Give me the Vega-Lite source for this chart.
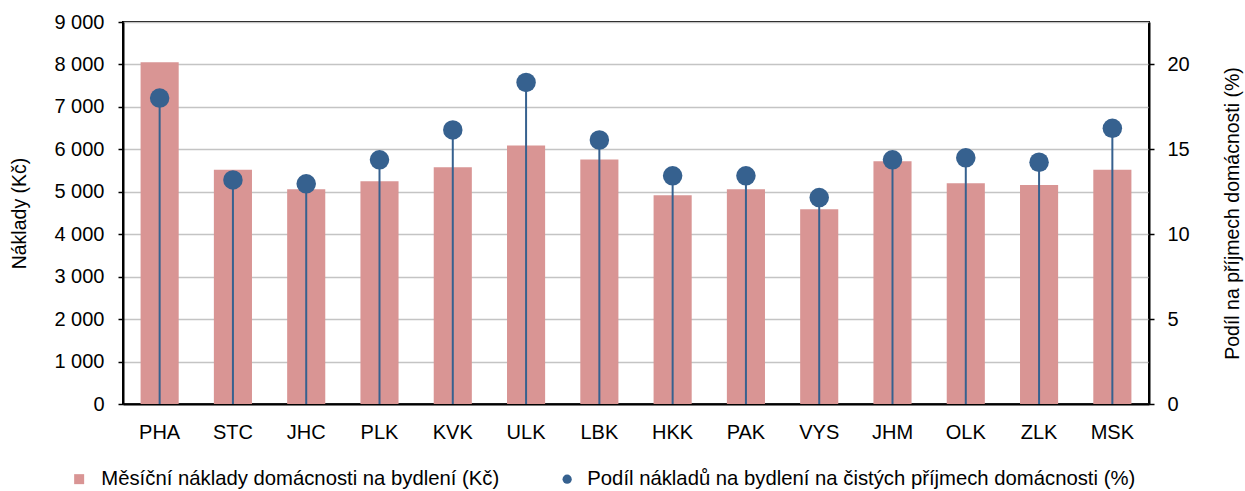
{
  "$schema": "https://vega.github.io/schema/vega-lite/v6.json",
  "width": 1026,
  "height": 382,
  "autosize": {"type": "none"},
  "padding": {"left": 123, "top": 22, "right": 96, "bottom": 87},
  "background": "white",
  "config": {
    "font": "Liberation Sans",
    "view": {"stroke": "black", "strokeWidth": 2},
    "axis": {"labelFont": "Liberation Sans", "titleFont": "Liberation Sans", "labelColor": "black", "titleColor": "black", "labelFontSize": 20, "titleFontSize": 19.5, "titleFontWeight": "normal"},
    "legend": {"labelFont": "Liberation Sans", "labelFontSize": 20.3, "labelColor": "black", "labelLimit": 0}
  },
  "data": {
    "values": [
      {"kraj": "PHA", "naklady": 8050, "podil": 18.02},
      {"kraj": "STC", "naklady": 5520, "podil": 13.2},
      {"kraj": "JHC", "naklady": 5060, "podil": 12.97},
      {"kraj": "PLK", "naklady": 5250, "podil": 14.38},
      {"kraj": "KVK", "naklady": 5580, "podil": 16.14},
      {"kraj": "ULK", "naklady": 6090, "podil": 18.94},
      {"kraj": "LBK", "naklady": 5760, "podil": 15.55},
      {"kraj": "HKK", "naklady": 4920, "podil": 13.44},
      {"kraj": "PAK", "naklady": 5060, "podil": 13.44},
      {"kraj": "VYS", "naklady": 4590, "podil": 12.16},
      {"kraj": "JHM", "naklady": 5720, "podil": 14.38},
      {"kraj": "OLK", "naklady": 5200, "podil": 14.5},
      {"kraj": "ZLK", "naklady": 5160, "podil": 14.24},
      {"kraj": "MSK", "naklady": 5520, "podil": 16.24}
    ]
  },
  "encoding": {
    "x": {
      "field": "kraj", "type": "nominal", "sort": null,
      "scale": {"paddingInner": 0.48, "paddingOuter": 0.24},
      "axis": {"title": null, "labelAngle": 0, "ticks": false, "labelPadding": 18, "domain": true, "domainColor": "black", "domainWidth": 2}
    }
  },
  "layer": [
    {
      "mark": {"type": "bar", "color": "#d99594"},
      "encoding": {
        "y": {
          "field": "naklady", "type": "quantitative",
          "scale": {"domain": [0, 9000], "nice": false},
          "axis": {
            "title": "Náklady (Kč)", "values": [0,1000,2000,3000,4000,5000,6000,7000,8000,9000],
            "labelExpr": "replace(format(datum.value, ','), ',', ' ')",
            "grid": true, "gridColor": "#c4c4c4", "gridWidth": 1.5,
            "domainColor": "black", "domainWidth": 2, "tickColor": "black", "tickWidth": 1.5, "tickSize": 5,
            "labelPadding": 14, "titlePadding": 24
          }
        },
        "fill": {
          "datum": "Měsíční náklady domácnosti na bydlení (Kč)",
          "type": "nominal",
          "scale": {"range": ["#d99594"]},
          "legend": {"title": null, "orient": "none", "legendX": -54, "legendY": 447, "symbolType": "square", "symbolSize": 100, "labelOffset": 12}
        }
      }
    },
    {
      "mark": {"type": "rule", "color": "#36618f", "strokeWidth": 2},
      "encoding": {
        "y": {"field": "podil", "type": "quantitative", "scale": {"domain": [0, 22.5], "nice": false}, "axis": null},
        "y2": {"datum": 0}
      }
    },
    {
      "mark": {"type": "point", "filled": true, "opacity": 1, "size": 380},
      "encoding": {
        "y": {
          "field": "podil", "type": "quantitative",
          "scale": {"domain": [0, 22.5], "nice": false},
          "axis": {
            "orient": "right", "title": "Podíl  na příjmech domácnosti (%)", "titleAngle": 270,
            "values": [0, 5, 10, 15, 20], "grid": false,
            "domainColor": "black", "domainWidth": 2, "tickColor": "black", "tickWidth": 1.5, "tickSize": 5,
            "labelPadding": 13, "titlePadding": 53
          }
        },
        "color": {
          "datum": "Podíl nákladů na bydlení na čistých příjmech domácnosti (%)",
          "type": "nominal",
          "scale": {"range": ["#36618f"]},
          "legend": {"title": null, "orient": "none", "legendX": 434, "legendY": 447, "symbolType": "circle", "symbolSize": 85, "labelOffset": 10}
        }
      }
    }
  ],
  "resolve": {"scale": {"y": "independent"}}
}
